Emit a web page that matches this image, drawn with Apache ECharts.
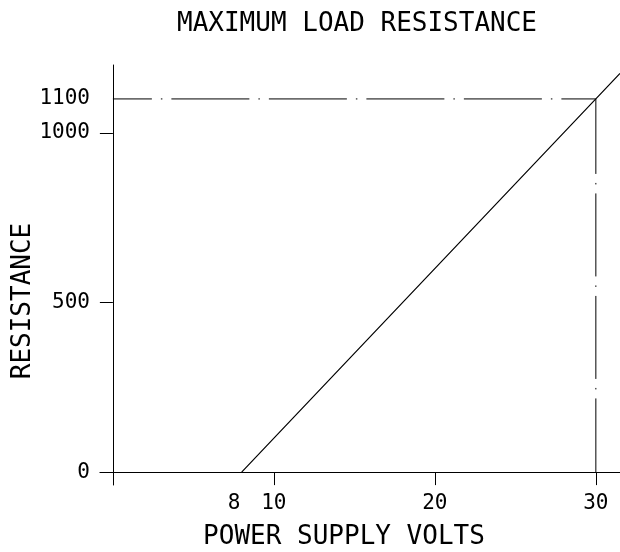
<!DOCTYPE html>
<html>
<head>
<meta charset="utf-8">
<script src="https://cdn.jsdelivr.net/npm/echarts@6/dist/echarts.min.js"></script>
<style>
  html, body { margin: 0; padding: 0; background: #fff; }
  #chart { width: 620px; height: 552px; }
</style>
</head>
<body>
<div id="chart"></div>
<script>
// values
var loadVolts = [8, 30, 31.5]
var loadOhms = [0, 1100, 1175]
var limitVolts = 30
var limitOhms = 1100
var xTickValues = [10, 20, 30]
var xLabelValues = [8, 10, 20, 30]
var yTickValues = [0, 500, 1000]
var yLabelValues = [0, 500, 1000, 1100]

var font = 'DejaVu Sans Mono'

var chart = echarts.init(document.getElementById('chart'), null, { renderer: 'canvas' })

var option = {
  backgroundColor: '#fff',
  animation: false,
  title: {
    text: 'MAXIMUM LOAD RESISTANCE',
    left: 172,
    top: 6,
    textStyle: {
      fontFamily: font,
      fontSize: 26,
      fontWeight: 'normal',
      color: '#000'
    }
  },
  grid: {
    left: 100,
    right: 0,
    top: 65,
    bottom: 67,
    containLabel: false,
    outerBoundsMode: 'none'
  },
  xAxis: {
    type: 'value',
    min: -0.8,
    max: 31.5,
    name: 'POWER SUPPLY VOLTS',
    nameLocation: 'middle',
    nameGap: 39,
    nameMoveOverlap: false,
    nameTextStyle: {
      fontFamily: font,
      fontSize: 26,
      color: '#000',
      padding: [0, 32, 0, 0]
    },
    axisLine: { onZero: true, lineStyle: { color: '#000', width: 1 } },
    axisTick: { show: true, length: 13, customValues: xTickValues, lineStyle: { color: '#000' } },
    axisLabel: {
      customValues: xLabelValues,
      margin: 8,
      fontFamily: font,
      fontSize: 21,
      color: '#000',
      formatter: function(v) {
        // the 8 sits a little left of its value in the original
        return v === 8 ? '{s|8}' : String(v)
      },
      rich: {
        s: { fontFamily: font, fontSize: 21, color: '#000', padding: [0, 15, 0, 0] }
      }
    },
    splitLine: { show: false }
  },
  yAxis: {
    type: 'value',
    min: -38,
    max: 1200,
    name: 'RESISTANCE',
    nameLocation: 'middle',
    nameGap: 64,
    nameMoveOverlap: false,
    nameRotate: 90,
    nameTextStyle: {
      fontFamily: font,
      fontSize: 26,
      color: '#000',
      padding: [0, 52, 0, 0]
    },
    axisLine: { onZero: true, lineStyle: { color: '#000', width: 1 } },
    axisTick: { show: true, length: 13, customValues: yTickValues, lineStyle: { color: '#000' } },
    axisLabel: {
      customValues: yLabelValues,
      margin: 10,
      fontFamily: font,
      fontSize: 21,
      color: '#000',
      formatter: function(v) {
        return String(v)
      }
    },
    splitLine: { show: false }
  },
  series: [
    {
      name: 'load',
      type: 'line',
      symbol: 'none',
      data: loadVolts.map(function(v, i) { return [v, loadOhms[i]] }),
      lineStyle: { color: '#000', width: 1.2 }
    },
    {
      name: 'limit-h',
      type: 'line',
      symbol: 'none',
      data: [[0, limitOhms], [limitVolts, limitOhms]],
      lineStyle: { color: '#000', width: 1, type: [78, 9, 1.5, 9], dashOffset: 39 }
    },
    {
      name: 'limit-v',
      type: 'line',
      symbol: 'none',
      data: [[limitVolts, limitOhms], [limitVolts, 0]],
      lineStyle: { color: '#000', width: 1, type: [83, 9, 1.5, 9], dashOffset: 8 }
    }
  ]
}

chart.setOption(option)
</script>
</body>
</html>
